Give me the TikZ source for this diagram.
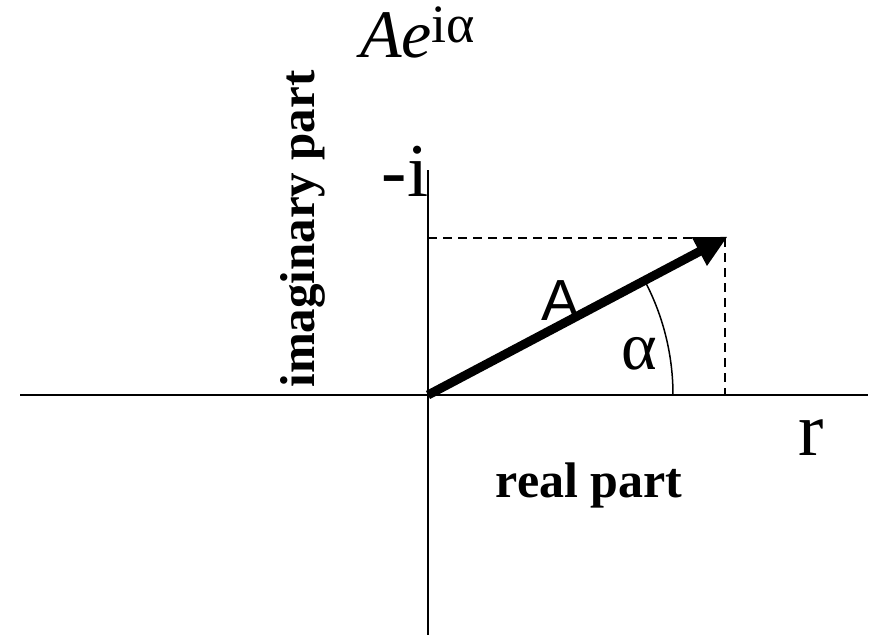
\documentclass[tikz,border=0pt]{standalone}
\usepackage{fontspec}
\setmainfont{Liberation Serif}
\newfontfamily\lsans{Liberation Sans}
\usetikzlibrary{arrows.meta}
\tikzset{
  axisline/.style={line width=1.7pt},
  guide/.style={line width=2.2pt, dash pattern=on 9pt off 6pt},
  vec/.style={line width=9pt, -{Triangle[length=32pt,width=30pt]}},
  lbl/.style={inner sep=0pt, anchor=center}
}
\begin{document}
\begin{tikzpicture}[x=1pt,y=-1pt]
\useasboundingbox (0,0) rectangle (873,640);
\coordinate (O) at (428,395);
\coordinate (L) at (20,395);
\coordinate (R) at (868,395);
\coordinate (T) at (428,170);
\coordinate (B) at (428,635);
\coordinate (P) at (725,238);
\coordinate (PY) at (428,238);
\coordinate (PX) at (725,395);
\coordinate (arcstart) at (673,395);
\draw[axisline] (L) -- (R);
\draw[axisline] (T) -- (B);
\draw[guide] (PY) -- (P);
\draw[guide] (P) -- (PX);
\draw[line width=1.5pt] (arcstart) arc[start angle=0, end angle=-27.6, radius=245];
\draw[vec, shorten >=-3pt] (O) -- (P);
\node[lbl] (title) at (418,32) {\fontsize{68}{72}\selectfont\itshape A\kern-1pt e\raisebox{0.22em}{\fontsize{54}{56}\selectfont\upshape iα}};
\node[lbl] (mi) at (405,171) {\fontsize{76}{80}\selectfont -i};
\node[lbl, rotate=90] (im) at (303,229) {\fontsize{49}{54}\selectfont\bfseries imaginary part};
\node[lbl] (Alab) at (561,301) {\lsans\fontsize{58}{60}\selectfont A};
\node[lbl] (alpha) at (639,354) {\fontsize{68}{72}\selectfont α};
\node[lbl] (r) at (811,438) {\fontsize{76}{80}\selectfont r};
\node[lbl] (re) at (589,485) {\fontsize{50}{54}\selectfont\bfseries real part};
\end{tikzpicture}
\end{document}
